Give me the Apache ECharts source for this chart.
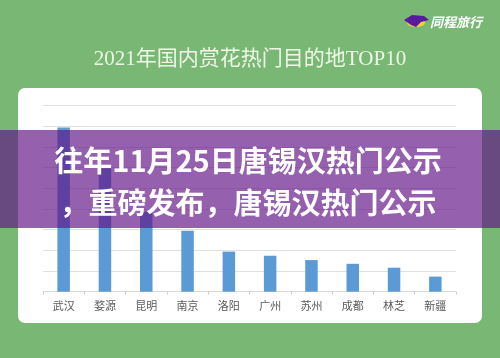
<!DOCTYPE html>
<html>
<head>
<meta charset="utf-8">
<script src="https://cdn.jsdelivr.net/npm/echarts@6/dist/echarts.min.js"></script>
<style>
html,body{margin:0;padding:0;background:#79b874;}
#c{width:500px;height:358px;}
</style>
</head>
<body>
<div id="c"></div>
<script>
var titleText = '2021年国内赏花热门目的地TOP10';
var categories = ['武汉','婺源','昆明','南京','洛阳','广州','苏州','成都','林芝','新疆'];
var values = [7.95, 5.97, 3.87, 2.95, 1.94, 1.74, 1.53, 1.35, 1.16, 0.73];
var overlayLine1 = '往年11月25日唐锡汉热门公示';
var overlayLine2 = '，重磅发布，唐锡汉热门公示';
var logoText = '同程旅行';

var chart = echarts.init(document.getElementById('c'), null, {renderer:'canvas'});
var serif = "'Liberation Serif','DejaVu Serif','Noto Sans CJK SC',serif";
var cjk = "'Noto Sans CJK SC','Noto Sans',sans-serif";
chart.setOption({
  backgroundColor: '#79b874',
  animation: false,
  title: {
    text: titleText,
    left: 'center',
    top: 44,
    textStyle: {color: '#eef6e6', fontSize: 21, fontWeight: 'normal', fontFamily: serif}
  },
  grid: {left: 43, right: 44, top: 105.7, bottom: 66.3},
  xAxis: {
    type: 'category',
    data: categories,
    axisLine: {lineStyle: {color: '#d9d9d9', width: 1}},
    axisTick: {show: true, length: 3, lineStyle: {color: '#d0d0d0'}},
    axisLabel: {color: '#5a5a5a', fontSize: 11, fontFamily: serif, margin: 10}
  },
  yAxis: {
    type: 'value',
    min: 0, max: 9, interval: 1,
    axisLabel: {show: false},
    axisLine: {show: false},
    axisTick: {show: false},
    splitLine: {lineStyle: {color: '#e0e0e0', width: 1}}
  },
  series: [{
    type: 'bar',
    data: values,
    barWidth: 12.5,
    itemStyle: {color: '#5b9bd5'}
  }],
  graphic: [
    {type: 'rect', z: -10, shape: {x: 18, y: 88, width: 464, height: 235, r: 7}, style: {fill: '#ffffff'}},
    {type: 'rect', z: 100, shape: {x: 0, y: 130, width: 500, height: 98}, style: {fill: 'rgba(97,19,134,0.67)'}},
    {type: 'text', z: 101, style: {text: overlayLine1, x: 248, y: 161, textAlign: 'center', textVerticalAlign: 'middle', fill: '#ffffff', font: 'bold 29px ' + cjk}},
    {type: 'text', z: 101, style: {text: overlayLine2, x: 248, y: 203, textAlign: 'center', textVerticalAlign: 'middle', fill: '#ffffff', font: 'bold 29px ' + cjk}},
    {type: 'ellipse', z: 50, shape: {cx: 416, cy: 23, rx: 9, ry: 4}, style: {fill: '#f3d03a'}},
    {type: 'polygon', z: 51, shape: {points: [[404,20],[412,15],[424,16],[429,20],[421,22],[416,27],[411,25]]}, style: {fill: '#5a1aa0'}},
    {type: 'text', z: 51, style: {text: logoText, x: 456, y: 22, textAlign: 'center', textVerticalAlign: 'middle', fill: '#ffffff', font: 'italic bold 13px ' + cjk}}
  ]
});
</script>
</body>
</html>
